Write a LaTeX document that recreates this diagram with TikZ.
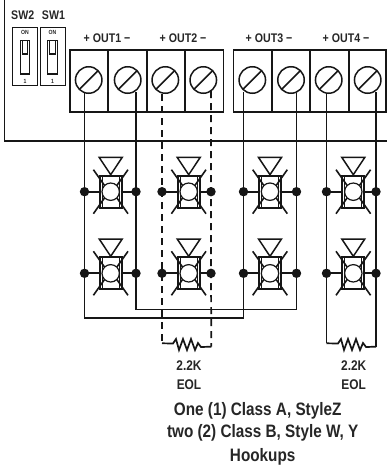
\documentclass[tikz,border=0pt]{standalone}
\usepackage{fontspec}
\setmainfont[FakeStretch=0.85]{Liberation Sans Bold}
\definecolor{ink}{HTML}{161616}
\definecolor{txt}{HTML}{262626}
\tikzset{
  x=1pt,y=-1pt,
  wire/.style={draw=ink,line width=1.7pt},
  dwire/.style={draw=ink,line width=1.7pt,dash pattern=on 7pt off 5pt},
  panel/.style={draw=ink,line width=1.6pt},
  thick div/.style={draw=ink,line width=2.2pt},
  dotn/.style={circle,fill=ink,inner sep=0pt,minimum size=9.4pt},
  screw/.style={circle,draw=ink,line width=1.5pt,inner sep=0pt,minimum size=26.5pt,
    path picture={\draw[ink,line width=1.5pt] (path picture bounding box.center)+(-9.4,9.4) -- +(9.4,-9.4);}},
  lab/.style={text=txt,inner sep=0pt,font=\fontsize{12.5}{15}\selectfont,align=center},
  val/.style={text=txt,inner sep=0pt,font=\fontsize{14}{16}\selectfont,align=center},
  tiny/.style={text=txt,inner sep=0pt,font=\fontsize{6}{7}\selectfont},
  big/.style={text=txt,inner sep=0pt,font=\fontsize{18}{20}\selectfont},
  horn/.pic={
    \draw[ink,line width=1.5pt] (-11.5,-34.3) -- (11.5,-34.3) -- (0,-17) -- cycle;
    \draw[ink,line width=1.8pt] (-11,-16) rectangle (11,16);
    \draw[ink,line width=1.6pt] (-17.3,-22) -- (-6,-6) (17.3,-22) -- (6,-6)
      (-17.3,22) -- (-6,6) (17.3,22) -- (6,6);
    \draw[ink,line width=.9pt] (-8.5,-16) -- (-8.5,16) (8.5,-16) -- (8.5,16);
    \fill[white] (0,0) circle (8.7);
    \draw[ink,line width=1.2pt] (0,0) circle (8.7);
  },
  pics/swt/.style={code={
    \draw[ink,line width=1pt] (-12.5,0) rectangle (12.5,57.5);
    \draw[ink,line width=1.2pt] (-4.7,13) rectangle (4.7,46.5);
    \draw[ink,line width=1.2pt] (-2.7,13) rectangle (2.7,26.5);
    \node[tiny] at (0,4.5) {ON};
    \node[tiny] at (0,53.5) {1};
  }},
}
\begin{document}
\begin{tikzpicture}
\useasboundingbox (0,0) rectangle (387,466);
% panel edge
\coordinate (pt) at (4.5,0); \coordinate (pc) at (4.5,141); \coordinate (pr) at (387,141);
\draw[panel] (pt) -- (pc) -- (pr);
% DIP switches
\pic at (25,27.5) {swt};
\pic at (52.5,27.5) {swt};
\node[lab] (sw2) at (22.7,15) {SW2};
\node[lab] (sw1) at (53.5,15) {SW1};
% terminal blocks
\draw[panel] (70,49.7) rectangle (223.3,112);
\draw[panel] (233.3,49.7) rectangle (386,112);
\foreach \x in {108,146.7,185.3,271.7,310,349} \draw[thick div] (\x,49.7) -- (\x,112);
\node[lab] (o1) at (107,38) {+ OUT1 −};
\node[lab] (o2) at (183,38) {+ OUT2 −};
\node[lab] (o3) at (269,38) {+ OUT3 −};
\node[lab] (o4) at (346,38) {+ OUT4 −};
\foreach \i/\x in {1/88.7,2/127.7,3/165.3,4/203.3,5/252.3,6/291,7/328.7,8/367.7}
  \node[screw] (s\i) at (\x,80) {};
\coordinate (w1) at (84.5,93);
\coordinate (w2) at (136,92);
\coordinate (w3) at (162,94);
\coordinate (w4) at (211,91);
\coordinate (w5) at (243.5,92);
\coordinate (w6) at (296.5,93);
\coordinate (w7) at (326.5,94);
\coordinate (w8) at (376,92);
% horns
\foreach \x in {110.7,188.7,270,353.3} \foreach \y in {191.7,273.3}
  \pic at (\x,\y) {horn};
% junction dots
\foreach \n/\x in {a/84.5,b/136,c/162,d/211,e/243.5,f/296.5,g/326.5,h/376}{
  \node[dotn] (\n1) at (\x,191.7) {};
  \node[dotn] (\n2) at (\x,273.3) {};
}
% stubs
\foreach \l/\r/\x in {a/b/110.7,c/d/188.7,e/f/270,g/h/353.3}{
  \foreach \k/\y in {1/191.7,2/273.3}{
    \draw[wire] (\l\k.center) -- (\x-11,\y);
    \draw[wire] (\r\k.center) -- (\x+11,\y);
  }
}
% class A / B wiring
\coordinate (k1) at (84.5,317.7); \coordinate (k2) at (243.5,317.7);
\coordinate (k3) at (136,309.5); \coordinate (k4) at (296.5,309.5);
\draw[wire] (w1) -- (a1.center) -- (a2.center) -- (k1) -- (k2) -- (e2.center) -- (e1.center) -- (w5);
\draw[wire] (w2) -- (b1.center) -- (b2.center) -- (k3) -- (k4) -- (f2.center) -- (f1.center) -- (w6);
% dashed loop
\coordinate (r1) at (162,343.3); \coordinate (r2) at (211.3,346.7);
\draw[dwire] (w3) -- (c1.center) -- (c2.center) -- (r1);
\draw[dwire] (w4) -- (d1.center) -- (d2.center) -- (r2);
\coordinate (r3) at (326.5,343.3); \coordinate (r4) at (376,346.7);
\draw[wire] (w7) -- (g1.center) -- (g2.center) -- (r3);
\draw[wire] (w8) -- (h1.center) -- (h2.center) -- (r4);
% resistors
\draw[wire,line join=miter] (r1) -- (173,343.5) -- (176,339) -- (179,350) -- (183,339) -- (187,350) -- (191,339) -- (195,350) -- (198,343) -- (201,347) -- (r2);
\draw[wire,line join=miter] (r3) -- (338,343.5) -- (341,339) -- (344,350) -- (348,339) -- (352,350) -- (356,339) -- (360,350) -- (363,343) -- (366,347) -- (r4);
\node[val] (t1) at (189,366) {2.2K};
\node[val] (t2) at (189,385) {EOL};
\node[val] (t3) at (353.7,366) {2.2K};
\node[val] (t4) at (353.7,385) {EOL};
\node[big] (c1t) at (257.7,410.7) {One (1) Class A, StyleZ};
\node[big] (c2t) at (262.7,433) {two (2) Class B, Style W, Y};
\node[big] (c3t) at (262.7,456.7) {Hookups};
\end{tikzpicture}
\end{document}
